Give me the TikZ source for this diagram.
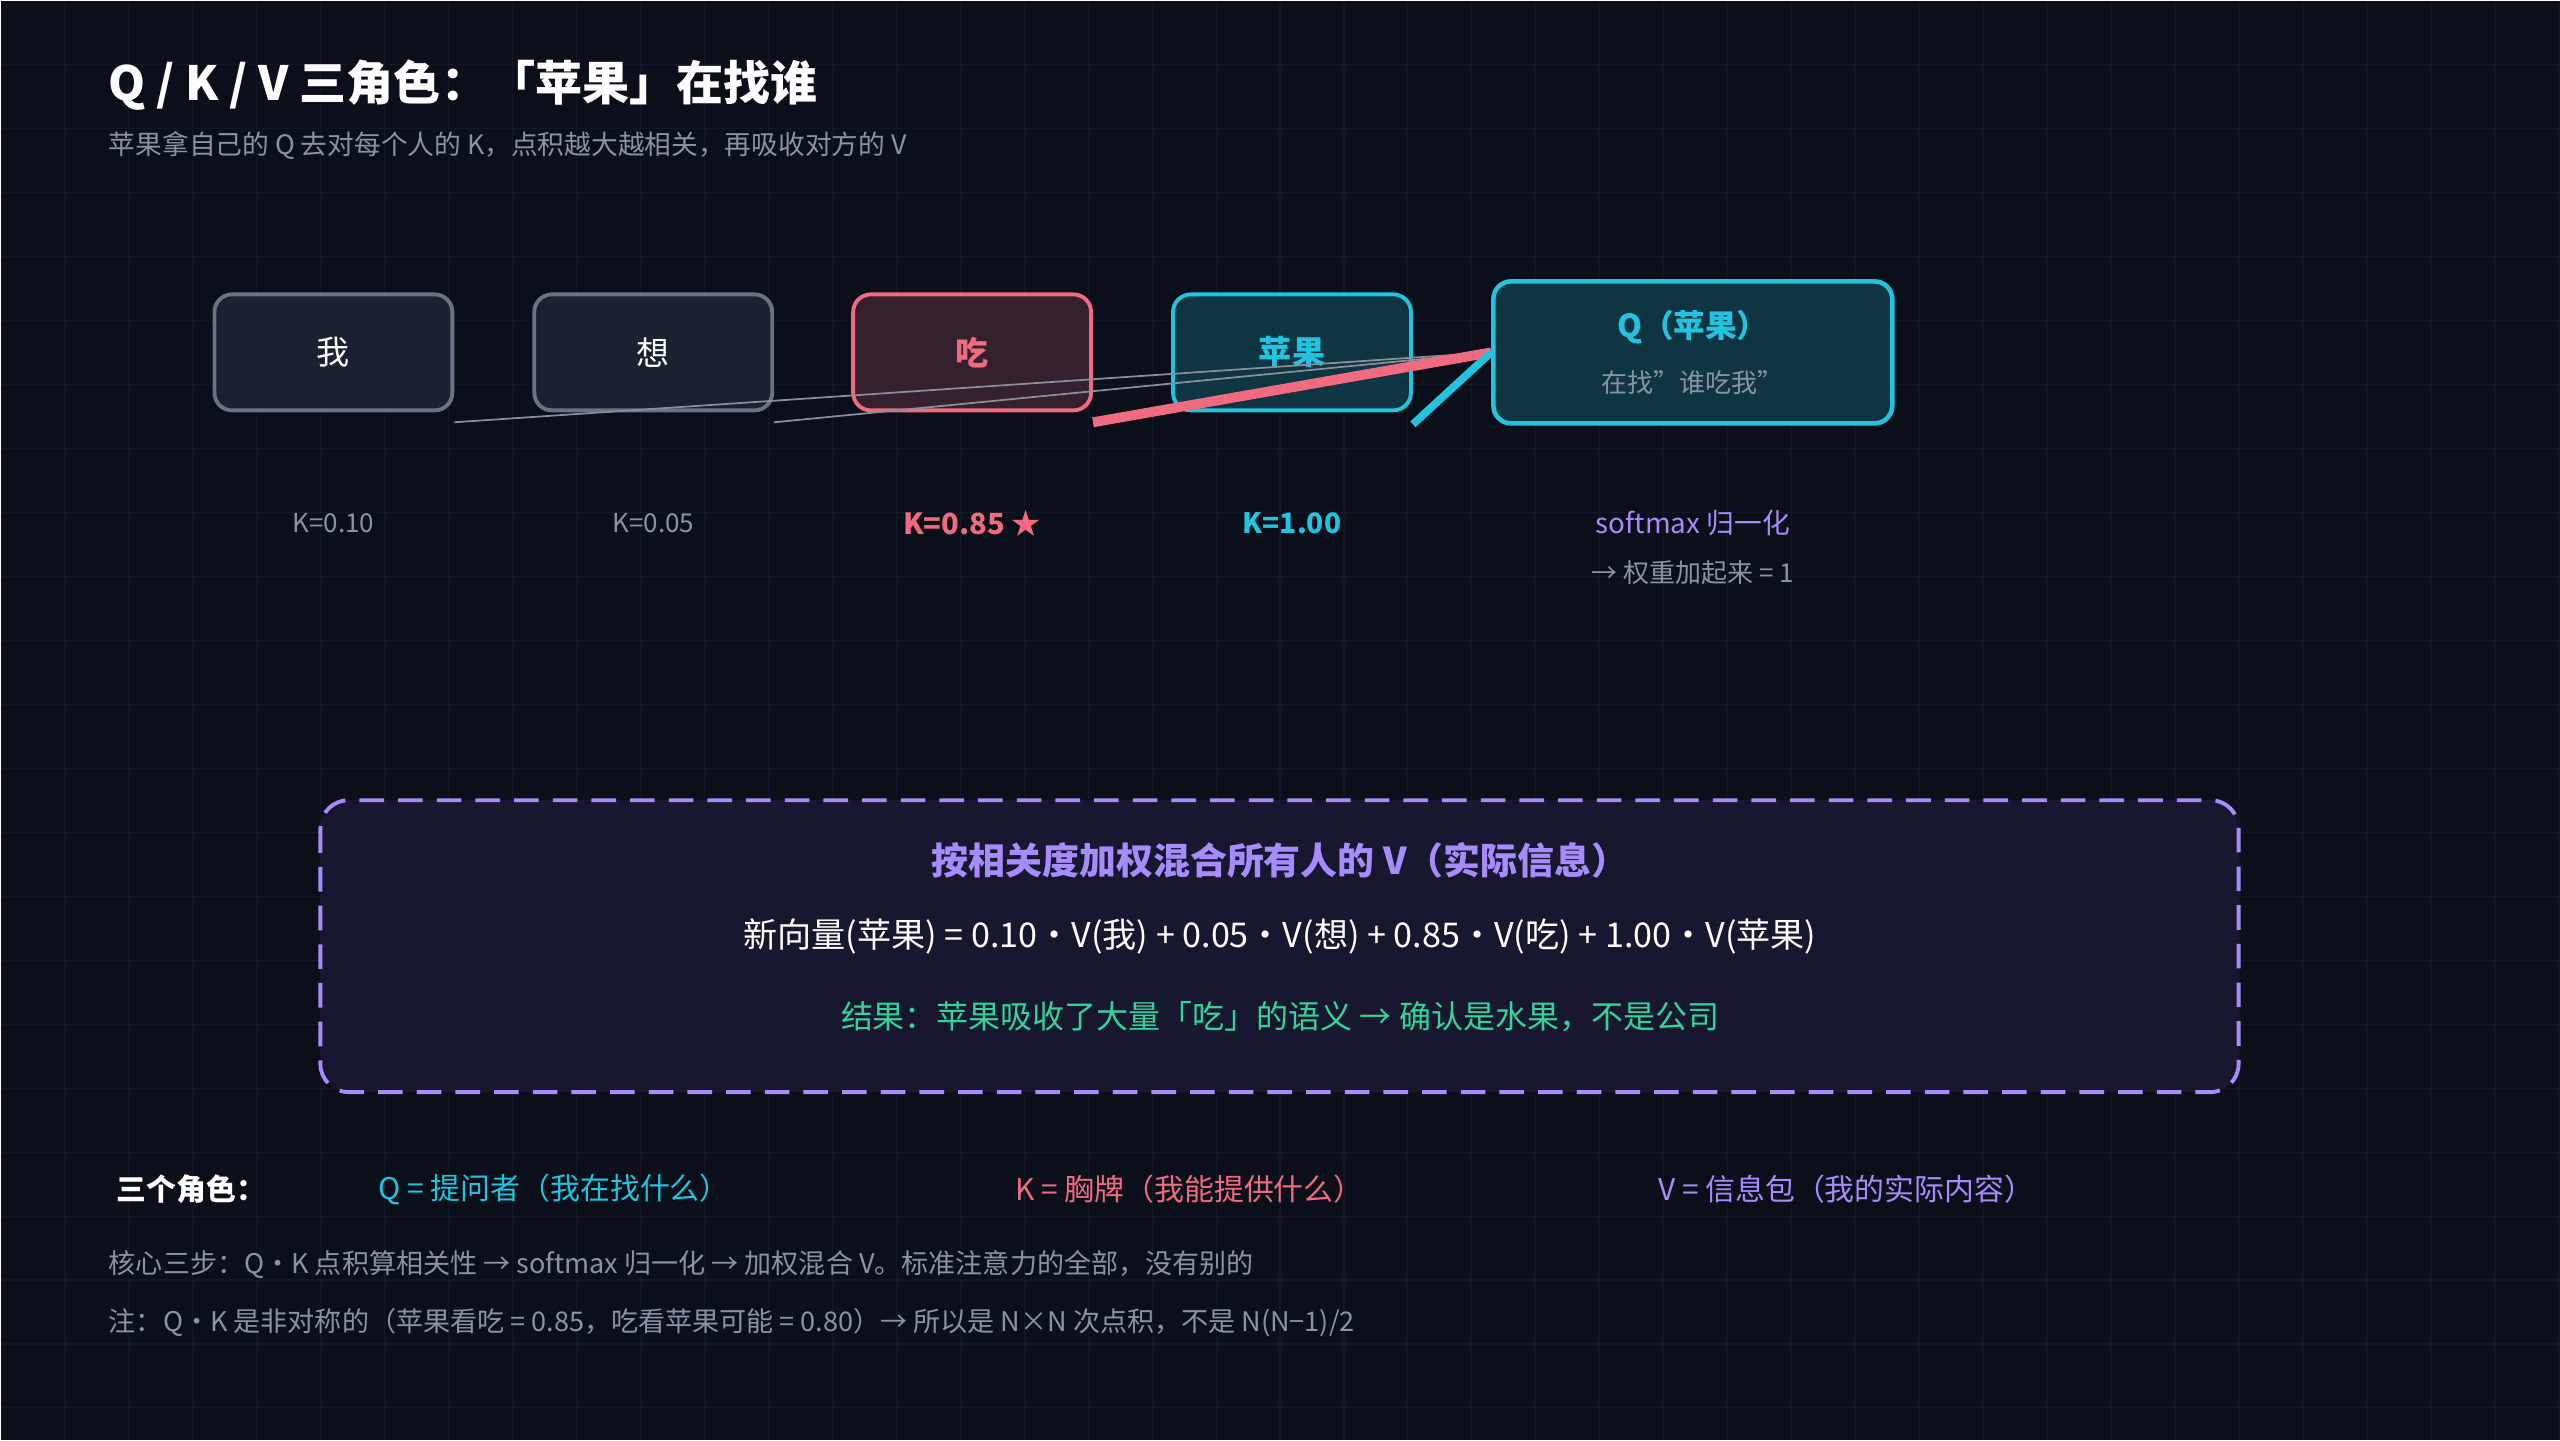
\documentclass[tikz,border=0pt]{standalone}
\usepackage{fontspec}
\setmainfont{Noto Sans CJK SC}
\usetikzlibrary{positioning}
\definecolor{bgc}{HTML}{0B0F1A}
\definecolor{gridc}{HTML}{111726}
\definecolor{boxg}{HTML}{1A2130}
\definecolor{edgeg}{HTML}{6B7280}
\definecolor{txtg}{HTML}{8A93A3}
\definecolor{pinkc}{HTML}{F06A80}
\definecolor{pinkf}{HTML}{35202E}
\definecolor{cyanc}{HTML}{22C3DE}
\definecolor{cyanf}{HTML}{0F3442}
\definecolor{purpc}{HTML}{A78BFA}
\definecolor{purpf}{HTML}{171830}
\definecolor{greenc}{HTML}{34D399}
\newcommand{\fsz}[1]{\fontsize{#1}{#1}\selectfont}
\tikzset{
  tok/.style={draw=edgeg, fill=boxg, line width=1.1pt, rounded corners=5pt,
    minimum width=238\pxu, minimum height=116\pxu, text=white, font=\fsz{9.4pt}},
  klab/.style={font=\fsz{7.4pt}, text=txtg},
  note/.style={font=\fsz{7.7pt}, text=txtg, anchor=west},
}
\newlength{\pxu}\setlength{\pxu}{0.01cm}
\begin{document}
\begin{tikzpicture}[x=0.01cm, y=-0.01cm]
\fill[bgc] (0,0) rectangle (2560,1440);
\foreach \g in {64,128,...,2560} \draw[gridc, line width=0.3pt] (\g,0) -- (\g,1440);
\foreach \g in {64,128,...,1440} \draw[gridc, line width=0.3pt] (0,\g) -- (2560,\g);
\useasboundingbox (0,0) rectangle (2560,1440);
% title
\node[anchor=west, text=white, font=\bfseries\fsz{13.4pt}] (title) at (96,85) {Q / K / V 三角色：「苹果」在找谁};
\node[anchor=west, text=txtg, font=\fsz{7.6pt}] (subt) at (96,145) {苹果拿自己的 Q 去对每个人的 K，点积越大越相关，再吸收对方的 V};
% tokens
\node[tok] (wo) at (333,352) {我};
\node[tok] (xiang) at (653,352) {想};
\node[tok, draw=pinkc, fill=pinkf, text=pinkc, font=\bfseries\fsz{9.4pt}] (chi) at (972,352) {吃};
\node[tok, draw=cyanc, fill=cyanf, text=cyanc, font=\bfseries\fsz{9.4pt}] (pg) at (1292,352) {苹果};
\node[tok, draw=cyanc, fill=cyanf, minimum width=399\pxu, minimum height=142\pxu, align=center, line width=1.3pt] (q) at (1693,352)
  {{\color{cyanc}\bfseries\fsz{9pt}Q（苹果）}\\[6pt]{\color{txtg}\fsz{7.4pt}在找"谁吃我"}};
% links to query
\draw[edgeg!80, line width=0.5pt] ([yshift=-10\pxu]wo.south east) -- (q.west);
\draw[edgeg!80, line width=0.5pt] ([yshift=-10\pxu]xiang.south east) -- (q.west);
\draw[pinkc, line width=2.8pt] ([yshift=-10\pxu]chi.south east) -- (q.west);
\draw[cyanc, line width=2.2pt] ([yshift=-12\pxu]pg.south east) -- (q.west);
% scores
\node[klab] (k1) at (333,523) {K=0.10};
\node[klab] (k2) at (653,523) {K=0.05};
\node[klab, text=pinkc, font=\bfseries\fsz{8.3pt}] (k3) at (972,523) {K=0.85 ★};
\node[klab, text=cyanc, font=\bfseries\fsz{8pt}] (k4) at (1292,523) {K=1.00};
\node[klab, text=purpc, font=\fsz{7.9pt}] (k5) at (1693,523) {softmax 归一化};
\node[klab, font=\fsz{7.4pt}] (k6) at (1693,572) {→ 权重加起来 = 1};
% mixing box
\draw[purpc, fill=purpf, dashed, dash pattern=on 7pt off 4pt, line width=1.1pt, rounded corners=8pt] (320,800) rectangle (2239,1092);
\node[text=purpc, font=\bfseries\fsz{10.5pt}] (mixh) at (1280,860) {按相关度加权混合所有人的 V（实际信息）};
\node[text=white, font=\fsz{9.7pt}] (mixf) at (1280,936) {新向量(苹果) = 0.10·V(我) + 0.05·V(想) + 0.85·V(吃) + 1.00·V(苹果)};
\node[text=greenc, font=\fsz{9.1pt}] (mixr) at (1280,1017) {结果：苹果吸收了大量「吃」的语义 → 确认是水果，不是公司};
% roles
\node[anchor=west, text=white, font=\bfseries\fsz{8.5pt}] (roles) at (104,1189) {三个角色：};
\node[anchor=west, text=cyanc, font=\fsz{8.5pt}] (rq) at (366,1189) {Q = 提问者（我在找什么）};
\node[anchor=west, text=pinkc, font=\fsz{8.5pt}] (rk) at (1003,1189) {K = 胸牌（我能提供什么）};
\node[anchor=west, text=purpc, font=\fsz{8.5pt}] (rv) at (1646,1189) {V = 信息包（我的实际内容）};
\node[note] (n1) at (96,1264) {核心三步：Q·K 点积算相关性 → softmax 归一化 → 加权混合 V。标准注意力的全部，没有别的};
\node[note] (n2) at (96,1323) {注：Q·K 是非对称的（苹果看吃 = 0.85，吃看苹果可能 = 0.80）→ 所以是 N×N 次点积，不是 N(N−1)/2};
\end{tikzpicture}
\end{document}
